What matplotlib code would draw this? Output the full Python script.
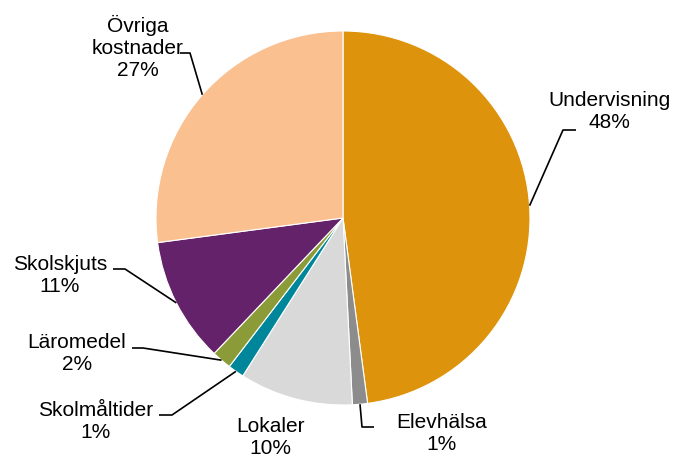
import numpy as np
import matplotlib
matplotlib.use("Agg")
import matplotlib.pyplot as plt

plt.rcParams.update({"font.family": ["Liberation Sans", "DejaVu Sans"], "font.size": 15})

categories = ["Undervisning", "Elevhälsa", "Lokaler", "Skolmåltider",
              "Läromedel", "Skolskjuts", "Övriga\nkostnader"]
shares = [47.9, 1.3, 9.8, 1.4, 1.7, 10.8, 27.1]
colors = ["#DE930D", "#8C8C8C", "#D9D9D9", "#00869B",
          "#8A9B38", "#632269", "#FAC090"]

H = 457
def py(y):  # pixel row -> data y
    return H - y

# label layout: text centre, then leader path (elbow points) in pixel coords
label_pos = [(609, 111), (442, 433), (270, 437), (96, 421), (77, 354), (60, 275), (138, 47)]
leader = [[(563, 130), (576, 130)],
          [(362, 427), (374, 427)],
          None,
          [(172, 415), (159, 415)],
          [(143, 348), (132, 348)],
          [(125, 269), (113, 269)],
          [(190, 53), (180, 53)]]

fig = plt.figure(figsize=(6.75, 4.57), dpi=100)
ax = fig.add_axes([0, 0, 1, 1])

cx, cy, r = 343, py(218), 187
wedges, _ = ax.pie(shares, colors=colors, startangle=90, counterclock=False,
                   center=(cx, cy), radius=r, frame=True,
                   wedgeprops=dict(edgecolor="white", linewidth=0.8))
ax.set_xlim(0, 675); ax.set_ylim(0, H)
ax.set_aspect("equal"); ax.axis("off")

for w, cat, val, pos, path in zip(wedges, categories, shares, label_pos, leader):
    ang = np.deg2rad((w.theta1 + w.theta2) / 2)
    ax0, ay0 = cx + r * np.cos(ang), cy + r * np.sin(ang)
    if path:
        xs = [ax0] + [p[0] for p in path]
        ys = [ay0] + [py(p[1]) for p in path]
        ax.plot(xs, ys, color="black", lw=1.2, solid_capstyle="butt")
    ax.text(pos[0], py(pos[1]), f"{cat}\n{val:.0f}%", ha="center", va="center",
            multialignment="center", fontsize=15, linespacing=1.2)

fig.savefig("out.png", dpi=100)
